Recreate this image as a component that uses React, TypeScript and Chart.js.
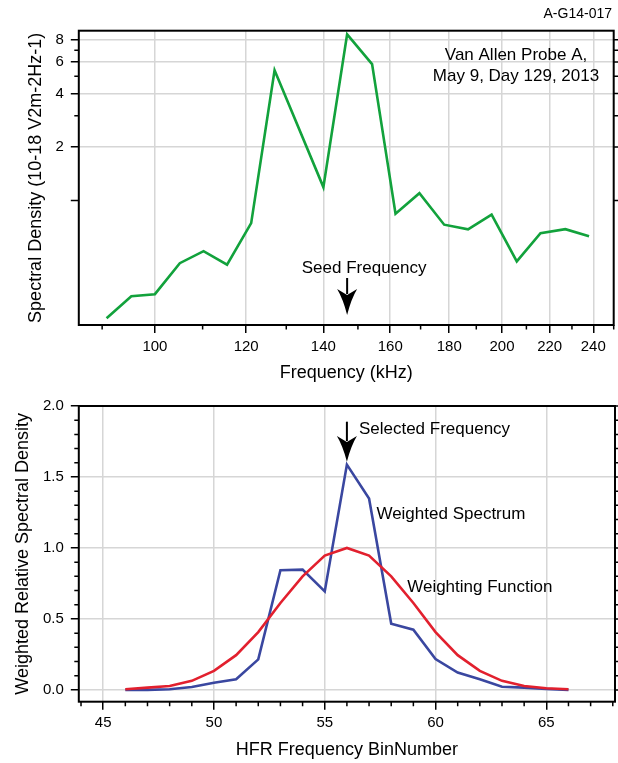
import React, { useEffect, useRef } from 'react';
import { Chart, registerables } from 'chart.js';

Chart.register(...registerables);

const FONT = '"Liberation Sans", Arial, Helvetica, sans-serif';

// ---------- Top panel: spectral density vs frequency (log-log) ----------
const freqKHz = [90.8, 95.4, 100, 105.1, 110.2, 115.5, 121.2, 127.0, 140.0, 146.8, 154.3, 161.7, 169.6, 178.2, 186.9, 195.9, 206.0, 216.0, 227.0, 238.0];
const spectralDensity = [0.218, 0.29, 0.298, 0.445, 0.52, 0.436, 0.747, 5.4, 1.19, 8.58, 5.84, 0.844, 1.1, 0.732, 0.689, 0.833, 0.455, 0.656, 0.691, 0.631];
const freqTickLabels = [100, 120, 140, 160, 180, 200, 220, 240];
const freqMinorTicks = [90, 110, 130, 150, 170, 190, 210, 230, 250];
const densityTickLabels = [2, 4, 6, 8];
const densityMinorTicks = [1, 3, 5, 7];
const seedFrequency = 146.8;

// ---------- Bottom panel: weighted spectrum vs bin number ----------
const binNumbers = [46, 47, 48, 49, 50, 51, 52, 53, 54, 55, 56, 57, 58, 59, 60, 61, 62, 63, 64, 65, 66];
const weightedSpectrum = [0.0, 0.0, 0.005, 0.02, 0.05, 0.075, 0.215, 0.843, 0.847, 0.694, 1.587, 1.349, 0.466, 0.424, 0.217, 0.122, 0.075, 0.022, 0.016, 0.007, 0.0];
const weightingFunction = [0.005, 0.016, 0.028, 0.064, 0.134, 0.245, 0.407, 0.612, 0.8, 0.946, 1.0, 0.946, 0.8, 0.612, 0.407, 0.245, 0.134, 0.064, 0.028, 0.012, 0.005];
const binTickLabels = [45, 50, 55, 60, 65];
const binMinorTicks = [44, 46, 47, 48, 49, 51, 52, 53, 54, 56, 57, 58, 59, 61, 62, 63, 64, 66, 67, 68];
const weightTickLabels = [0, 0.5, 1.0, 1.5, 2.0];
const weightMinorTicks = [0.1, 0.2, 0.3, 0.4, 0.6, 0.7, 0.8, 0.9, 1.1, 1.2, 1.3, 1.4, 1.6, 1.7, 1.8, 1.9];
const selectedBin = 56;

const GRID = '#d6d6d6';

function drawArrow(ctx: CanvasRenderingContext2D, x: number, y0: number, headStart: number, tip: number) {
  ctx.save();
  ctx.strokeStyle = '#000';
  ctx.fillStyle = '#000';
  ctx.lineWidth = 2;
  ctx.beginPath();
  ctx.moveTo(x, y0);
  ctx.lineTo(x, headStart + 5);
  ctx.stroke();
  ctx.beginPath();
  ctx.moveTo(x, tip);
  ctx.quadraticCurveTo(x - 4, headStart + 10, x - 10, headStart);
  ctx.lineTo(x, headStart + 6);
  ctx.lineTo(x + 10, headStart);
  ctx.quadraticCurveTo(x + 4, headStart + 10, x, tip);
  ctx.closePath();
  ctx.fill();
  ctx.restore();
}

function drawFrame(chart: any, xMinor: number[], yMajor: number[], yMinor: number[], yMinorLong: number[] = []) {
  const ctx = chart.ctx as CanvasRenderingContext2D;
  const { left, right, top, bottom } = chart.chartArea;
  const xs = chart.scales.x;
  const ys = chart.scales.y;
  ctx.save();
  ctx.strokeStyle = '#000';
  ctx.lineWidth = 1.5;
  // minor x ticks
  ctx.beginPath();
  xMinor.forEach((v) => {
    const px = xs.getPixelForValue(v);
    if (px < left - 1 || px > right + 1) return;
    ctx.moveTo(px, bottom);
    ctx.lineTo(px, bottom + 4.5);
  });
  // minor y ticks (left)
  yMinor.forEach((v) => {
    const py = ys.getPixelForValue(v);
    const len = yMinorLong.includes(v) ? 8 : 4.5;
    ctx.moveTo(left, py);
    ctx.lineTo(left - len, py);
  });
  // right side ticks
  yMajor.forEach((v) => {
    const py = ys.getPixelForValue(v);
    ctx.moveTo(right, py);
    ctx.lineTo(right + 8, py);
  });
  yMinor.forEach((v) => {
    const py = ys.getPixelForValue(v);
    const len = yMinorLong.includes(v) ? 8 : 4.5;
    ctx.moveTo(right, py);
    ctx.lineTo(right + len, py);
  });
  ctx.stroke();
  // box
  ctx.lineWidth = 2;
  ctx.strokeRect(left, top, right - left, bottom - top);
  ctx.restore();
}

const topPlugin = {
  id: 'topDecor',
  afterDraw(chart: any) {
    const ctx = chart.ctx as CanvasRenderingContext2D;
    drawFrame(chart, freqMinorTicks, densityTickLabels, densityMinorTicks, [1]);
    ctx.save();
    ctx.fillStyle = '#000';
    ctx.textBaseline = 'middle';
    ctx.font = `14px ${FONT}`;
    ctx.textAlign = 'right';
    ctx.fillText('A-G14-017', 612, 14);
    ctx.font = `17px ${FONT}`;
    ctx.textAlign = 'center';
    ctx.fillText('Van Allen Probe A,', 516, 55);
    ctx.fillText('May 9, Day 129, 2013', 516, 76);
    const ax = chart.scales.x.getPixelForValue(seedFrequency);
    ctx.fillText('Seed Frequency', ax + 17, 268);
    ctx.restore();
    drawArrow(ctx, ax, 278, 289, 315);
  },
};

const bottomPlugin = {
  id: 'bottomDecor',
  afterDraw(chart: any) {
    const ctx = chart.ctx as CanvasRenderingContext2D;
    drawFrame(chart, binMinorTicks, weightTickLabels, weightMinorTicks);
    const ax = chart.scales.x.getPixelForValue(selectedBin);
    ctx.save();
    ctx.fillStyle = '#000';
    ctx.textBaseline = 'middle';
    ctx.textAlign = 'left';
    ctx.font = `17px ${FONT}`;
    ctx.fillText('Selected Frequency', ax + 12, 39.3);
    ctx.fillText('Weighted Spectrum', 376.4, 124.3);
    ctx.fillText('Weighting Function', 407.2, 197.7);
    ctx.restore();
    drawArrow(ctx, ax, 31.7, 46, 71.7);
  },
};

const tickFont = { family: FONT, size: 15 };
const titleFont = { family: FONT, size: 18 };

export default function App() {
  const topRef = useRef<HTMLCanvasElement | null>(null);
  const bottomRef = useRef<HTMLCanvasElement | null>(null);

  useEffect(() => {
    Chart.defaults.font.family = FONT;
    const topChart = new Chart(topRef.current as HTMLCanvasElement, {
      type: 'line',
      data: {
        datasets: [
          {
            data: freqKHz.map((f, i) => ({ x: f, y: spectralDensity[i] })),
            borderColor: '#12a23c',
            borderWidth: 2.6,
            pointRadius: 0,
            tension: 0,
            fill: false,
          },
        ],
      },
      options: {
        animation: false,
        responsive: false,
        maintainAspectRatio: false,
        devicePixelRatio: 1,
        layout: { padding: { top: 30.7, right: 4.3, left: 0, bottom: 0 } },
        plugins: { legend: { display: false }, tooltip: { enabled: false } },
        scales: {
          x: {
            type: 'logarithmic',
            min: 85.9,
            max: 250,
            afterBuildTicks: (s: any) => {
              s.ticks = freqTickLabels.map((v) => ({ value: v }));
            },
            afterFit: (s: any) => {
              s.height = 65;
            },
            ticks: {
              callback: (v: any) => String(v),
              font: tickFont,
              color: '#000',
              padding: 4.7,
              maxRotation: 0,
              autoSkip: false,
            },
            grid: { color: GRID, lineWidth: 1.5, tickLength: 8, tickColor: '#000', tickWidth: 1.5 },
            border: { display: false },
            title: { display: true, text: 'Frequency (kHz)', font: titleFont, color: '#000', padding: { top: 0, bottom: 6.5 } },
          },
          y: {
            type: 'logarithmic',
            min: 0.2,
            max: 9,
            afterBuildTicks: (s: any) => {
              s.ticks = densityTickLabels.map((v) => ({ value: v }));
            },
            afterFit: (s: any) => {
              s.width = 78.8;
            },
            ticks: {
              callback: (v: any) => String(v),
              font: tickFont,
              color: '#000',
              padding: 7,
              autoSkip: false,
            },
            grid: { color: GRID, lineWidth: 1.5, tickLength: 8, tickColor: '#000', tickWidth: 1.5 },
            border: { display: false },
            title: {
              display: true,
              text: 'Spectral Density (10-18 V2m-2Hz-1)',
              font: titleFont,
              color: '#000',
              padding: { top: 25.7, bottom: 0 },
            },
          },
        },
      } as any,
      plugins: [topPlugin],
    });

    const bottomChart = new Chart(bottomRef.current as HTMLCanvasElement, {
      type: 'line',
      data: {
        datasets: [
          {
            data: binNumbers.map((b, i) => ({ x: b, y: weightingFunction[i] })),
            borderColor: '#e2202e',
            borderWidth: 2.6,
            pointRadius: 0,
            tension: 0,
            fill: false,
          },
          {
            data: binNumbers.map((b, i) => ({ x: b, y: weightedSpectrum[i] })),
            borderColor: '#3a47a0',
            borderWidth: 2.6,
            pointRadius: 0,
            tension: 0,
            fill: false,
          },
        ],
      },
      options: {
        animation: false,
        responsive: false,
        maintainAspectRatio: false,
        devicePixelRatio: 1,
        layout: { padding: { top: 16, right: 3, left: 0, bottom: 0 } },
        plugins: { legend: { display: false }, tooltip: { enabled: false } },
        scales: {
          x: {
            type: 'linear',
            min: 43.9,
            max: 68.1,
            afterBuildTicks: (s: any) => {
              s.ticks = binTickLabels.map((v) => ({ value: v }));
            },
            afterFit: (s: any) => {
              s.height = 61.3;
            },
            ticks: {
              callback: (v: any) => String(v),
              font: tickFont,
              color: '#000',
              padding: 4.6,
              maxRotation: 0,
              autoSkip: false,
            },
            grid: { color: GRID, lineWidth: 1.5, tickLength: 8, tickColor: '#000', tickWidth: 1.5 },
            border: { display: false },
            title: { display: true, text: 'HFR Frequency BinNumber', font: titleFont, color: '#000', padding: { top: 0, bottom: 2.2 } },
          },
          y: {
            type: 'linear',
            min: -0.083,
            max: 2.0,
            afterBuildTicks: (s: any) => {
              s.ticks = weightTickLabels.map((v) => ({ value: v }));
            },
            afterFit: (s: any) => {
              s.width = 78.8;
            },
            ticks: {
              callback: (v: any) => Number(v).toFixed(1),
              font: tickFont,
              color: '#000',
              padding: 7,
              autoSkip: false,
            },
            grid: { color: GRID, lineWidth: 1.5, tickLength: 8, tickColor: '#000', tickWidth: 1.5 },
            border: { display: false },
            title: {
              display: true,
              text: 'Weighted Relative Spectral Density',
              font: titleFont,
              color: '#000',
              padding: { top: 11.9, bottom: 0 },
            },
          },
        },
      } as any,
      plugins: [bottomPlugin],
    });

    return () => {
      topChart.destroy();
      bottomChart.destroy();
    };
  }, []);

  return (
    <div style={{ position: 'absolute', left: 0, top: 0, width: 618, height: 763, background: '#fff' }}>
      <canvas ref={topRef} width={618} height={390} style={{ position: 'absolute', left: 0, top: 0, width: 618, height: 390 }} />
      <canvas ref={bottomRef} width={618} height={373} style={{ position: 'absolute', left: 0, top: 390, width: 618, height: 373 }} />
    </div>
  );
}
